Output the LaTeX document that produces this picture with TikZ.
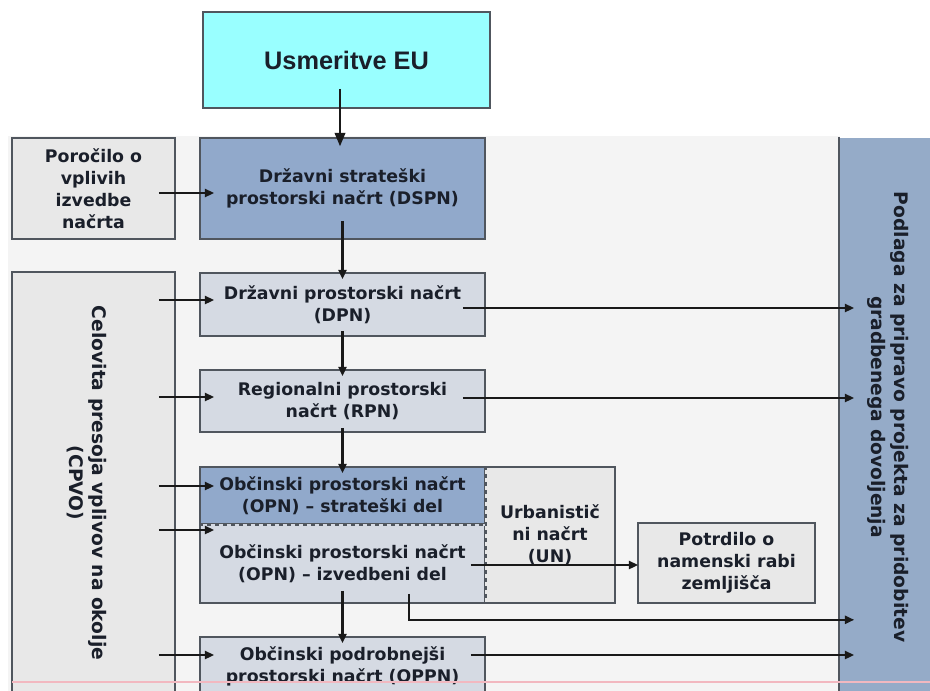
\documentclass[tikz,border=0pt]{standalone}
\usepackage{fontspec}
\setmainfont{DejaVu Sans}
\newfontfamily\arialf{Liberation Sans}
\usetikzlibrary{arrows.meta,calc}
\definecolor{steel}{HTML}{91A9CB}
\definecolor{podc}{HTML}{95ABC8}
\definecolor{lightblue}{HTML}{D5DAE3}
\definecolor{lgray}{HTML}{E8E8E8}
\definecolor{bgc}{HTML}{F4F4F4}
\definecolor{cyanbox}{HTML}{99FFFF}
\definecolor{bord}{HTML}{50565E}
\definecolor{txt}{HTML}{1A1F2A}
\definecolor{pinkline}{HTML}{F2B8C0}
\tikzset{
  bx/.style 2 args={draw=bord, line width=1.2pt, minimum width=#1*0.75pt, minimum height=#2*0.75pt, inner sep=0pt, align=center, text=txt, font=\bfseries\fontsize{13pt}{16.5pt}\selectfont},
  arr/.style={draw=black!90, line width=1.7pt, -{Triangle[length=7pt,width=6pt]}},
  arrbig/.style={draw=black!90, line width=1.2pt, -{Triangle[length=10pt,width=8pt]}},
  rtext/.style={rotate=-90, align=center, text=txt, font=\bfseries\fontsize{14pt}{17pt}\selectfont},
  divider/.style={bord, line width=1.2pt, dashed}
}
\begin{document}
\begin{tikzpicture}[x=0.75pt,y=-0.75pt]
\useasboundingbox (0,0) rectangle (930,690);
\clip (0,0) rectangle (930,690);
% background panel
\fill[bgc] (8,136) rectangle (840,700);
% boxes
\node[bx={287}{96}, fill=cyanbox, font=\arialf\bfseries\fontsize{19pt}{21pt}\selectfont] (eu) at (346.5,60) {Usmeritve EU};
\node[bx={163}{101}, fill=lgray] (por) at (93.5,188.5) {Poročilo o\\vplivih\\izvedbe\\načrta};
\node[bx={285}{101}, fill=steel] (dspn) at (342.5,188.5) {Državni strateški\\prostorski načrt (DSPN)};
\node[bx={163}{430}, fill=lgray] (cpvo) at (93.5,487) {};
\node[rtext] (cpvotext) at (87,483) {Celovita presoja vplivov na okolje\\(CPVO)};
\node[bx={97}{566}, fill=podc, draw=none] (pod) at (888.5,421) {};
\draw[bord, line width=1.2pt] (pod.north west) -- (pod.south west);
\node[rtext] (podtext) at (888,417) {Podlaga za pripravo projekta za pridobitev\\gradbenega dovoljenja};
\node[bx={285}{63}, fill=lightblue] (dpn) at (342.5,304.5) {Državni prostorski načrt\\(DPN)};
\node[bx={285}{62}, fill=lightblue] (rpn) at (342.5,401) {Regionalni prostorski\\načrt (RPN)};
\node[bx={130}{136}, fill=lgray] (un) at (550,535) {Urbanistič\\ni načrt\\(UN)};
\node[bx={285}{57}, fill=steel] (opns) at (342.5,495.5) {Občinski prostorski načrt\\(OPN) – strateški del};
\node[bx={285}{79}, fill=lightblue] (opni) at (342.5,563.5) {Občinski prostorski načrt\\(OPN) – izvedbeni del};
% dashed dividers (cover the solid borders first)
\draw[lightblue, line width=1.6pt] ($(opns.south west)+(1,0)$) -- ($(opns.south east)+(-1,0)$);
\draw[lgray, line width=1.6pt] ($(opns.north east)+(0,1)$) -- ($(opni.south east)+(0,-1)$);
\draw[divider] (opns.south west) -- (opns.south east);
\draw[divider] (opns.north east) -- (opni.south east);
\node[bx={177}{80}, fill=lgray] (pot) at (726.5,563) {Potrdilo o\\namenski rabi\\zemljišča};
\node[bx={285}{58}, fill=lightblue] (oppn) at (342.5,666) {Občinski podrobnejši\\prostorski načrt (OPPN)};
% pink line
\draw[pinkline, line width=0.8pt] (12,682) -- (930,682);
% vertical flow
\draw[arrbig] ($(eu.south)+(-6.5,-20)$) -- ($(dspn.north)+(-2.5,9)$);
\draw[arr] ($(por.east)+(-17,4.5)$) -- ($(dspn.west)+(15,4.5)$);
\draw[arr] ($(dspn.south)+(0,-19)$) -- ($(dpn.north)+(0,7)$);
\draw[arr] ($(dpn.south)+(0,-6)$) -- ($(rpn.north)+(0,7)$);
\draw[arr] ($(rpn.south)+(0,-5)$) -- ($(opns.north)+(0,7)$);
\draw[arr] ($(opni.south)+(0,-13)$) -- ($(oppn.north)+(0,7)$);
% from CPVO
\draw[arr] ($(cpvo.east |- dpn.west)+(-17,-4.5)$) -- ($(dpn.west)+(15,-4.5)$);
\draw[arr] ($(cpvo.east |- rpn.west)+(-17,-4)$) -- ($(rpn.west)+(15,-4)$);
\draw[arr] ($(cpvo.east |- opns.west)+(-17,-9.5)$) -- ($(opns.west)+(15,-9.5)$);
\draw[arr] ($(cpvo.east |- opni.west)+(-17,-33.5)$) -- ($(opni.west)+(15,-33.5)$);
\draw[arr] ($(cpvo.east |- oppn.west)+(-17,-11)$) -- ($(oppn.west)+(15,-11)$);
% to Podlaga
\draw[arr] ($(dpn.east)+(-23,3.5)$) -- ($(dpn.east -| pod.west)+(15,3.5)$);
\draw[arr] ($(rpn.east)+(-23,-3)$) -- ($(rpn.east -| pod.west)+(15,-3)$);
\draw[arr] ($(opni.east)+(-15,1.5)$) -- ($(pot.west)+(1,2)$);
\draw[arr] ($(opni.south)+(66.5,-10)$) |- ($(opni.south -| pod.west)+(15,16)$);
\draw[arr] ($(oppn.east)+(-15,-11)$) -- ($(oppn.east -| pod.west)+(15,-11)$);
\end{tikzpicture}
\end{document}
